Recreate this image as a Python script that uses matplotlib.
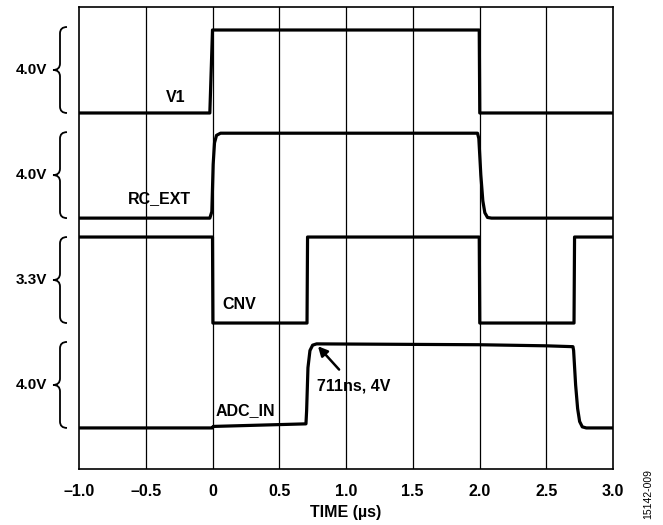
import matplotlib
matplotlib.use("Agg")
import matplotlib.pyplot as plt
from matplotlib.path import Path
from matplotlib.patches import PathPatch
import matplotlib.transforms as mtransforms

plt.rcParams['font.family'] = ['Liberation Sans', 'DejaVu Sans']
plt.rcParams['font.weight'] = 'bold'

# ---- data (time in µs, levels in V) ----
v1_t = [-1.0, -0.02, 0.0, 1.998, 2.002, 3.0]
v1_v = [0.0, 0.0, 3.86, 3.86, 0.0, 0.0]

rc_t = [-1.0, -0.02, -0.005, 0.005, 0.015, 0.03, 0.06, 1.0, 1.985, 1.995, 2.01, 2.025, 2.04, 2.06, 2.09, 3.0]
rc_v = [0.0, 0.0, 0.3, 2.5, 3.5, 3.85, 3.95, 3.95, 3.95, 3.7, 2.0, 0.8, 0.25, 0.03, 0.0, 0.0]

cnv_t = [-1.0, 0.0, 0.003, 0.708, 0.712, 1.998, 2.002, 2.708, 2.712, 3.0]
cnv_v = [3.3, 3.3, 0.0, 0.0, 3.3, 3.3, 0.0, 0.0, 3.3, 3.3]

adc_t = [-1.0, 0.0, 0.005, 0.70, 0.705, 0.715, 0.73, 0.75, 0.78, 2.0, 2.5, 2.70, 2.705, 2.72, 2.735, 2.75, 2.77, 2.80, 3.0]
adc_v = [0.0, 0.0, 0.07, 0.19, 0.8, 2.8, 3.6, 3.85, 3.91, 3.87, 3.82, 3.78, 3.6, 2.0, 0.9, 0.3, 0.05, 0.0, 0.0]

channel_names = ["V1", "RC_EXT", "CNV", "ADC_IN"]
channel_scales = ["4.0V", "4.0V", "3.3V", "4.0V"]
channel_fullscale = [4.0, 4.0, 3.3, 4.0]
channel_offsets = [16.56, 11.67, 6.79, 1.91]   # screen divisions

x_ticks = [-1.0, -0.5, 0.0, 0.5, 1.0, 1.5, 2.0, 2.5, 3.0]
x_ticklabels = ["\u20131.0", "\u20130.5", "0", "0.5", "1.0", "1.5", "2.0", "2.5", "3.0"]

# ---- figure ----
fig = plt.figure(figsize=(6.63, 5.25), dpi=100)
ax = fig.add_axes([79/663, 56/525, 534/663, 462/525])
ax.set_xlim(-1.0, 3.0)
ax.set_ylim(0, 21.49)

for x in x_ticks[1:-1]:
    ax.axvline(x, color='black', lw=0.9, zorder=1)

traces = [(v1_t, v1_v), (rc_t, rc_v), (cnv_t, cnv_v), (adc_t, adc_v)]
for i, (t, v) in enumerate(traces):
    g = 4.0 / channel_fullscale[i]
    y = [channel_offsets[i] + vv * g for vv in v]
    ax.plot(t, y, color='black', lw=2.3, solid_joinstyle='round', zorder=3)

for s in ax.spines.values():
    s.set_linewidth(1.2)
ax.set_yticks([])
ax.set_xticks(x_ticks)
ax.set_xticklabels(x_ticklabels, fontsize=11.5, fontweight='bold')
ax.tick_params(axis='x', length=0, pad=11)
ax.set_xlabel("TIME (\u00b5s)", fontsize=11.5, fontweight='bold', labelpad=4)

# trace labels
fs = 11.5
ax.text(-0.275, 17.3, "V1", ha='center', va='center', fontsize=fs, fontweight='bold')
ax.text(-0.395, 12.6, "RC_EXT", ha='center', va='center', fontsize=fs, fontweight='bold')
ax.text(0.20, 7.63, "CNV", ha='center', va='center', fontsize=fs, fontweight='bold')
ax.text(0.25, 2.7, "ADC_IN", ha='center', va='center', fontsize=fs, fontweight='bold')

ann_y = channel_offsets[3]
ax.annotate("711ns, 4V", xy=(0.79, ann_y + 3.8), xytext=(1.06, ann_y + 1.95),
            ha='center', va='center', fontsize=fs, fontweight='bold',
            arrowprops=dict(arrowstyle='-|>', color='black', lw=1.8,
                            mutation_scale=14, shrinkA=6, shrinkB=0))

# braces and scale labels
trans = mtransforms.blended_transform_factory(ax.transAxes, ax.transData)
xe = (67 - 79) / 534
xb = (60 - 79) / 534
xt = (53 - 79) / 534
r = 0.3
for i in range(4):
    y0 = channel_offsets[i]
    y1 = y0 + 4.0
    ym = (y0 + y1) / 2
    verts = [(xe, y1), (xb, y1), (xb, y1 - r),
             (xb, ym + r), (xb, ym), (xt, ym),
             (xb, ym), (xb, ym - r),
             (xb, y0 + r), (xb, y0), (xe, y0)]
    codes = [Path.MOVETO, Path.CURVE3, Path.CURVE3,
             Path.LINETO, Path.CURVE3, Path.CURVE3,
             Path.CURVE3, Path.CURVE3,
             Path.LINETO, Path.CURVE3, Path.CURVE3]
    patch = PathPatch(Path(verts, codes), transform=trans, fill=False,
                      lw=1.3, edgecolor='black', clip_on=False)
    ax.add_patch(patch)
    ax.text((47 - 79) / 534, ym, channel_scales[i], transform=trans,
            ha='right', va='center', fontsize=11, fontweight='bold')

fig.text(648/663, 1 - 494/525, "15142-009", rotation=90, ha='center', va='center',
         fontsize=7.5, fontweight='normal')

fig.savefig("out.png", dpi=100)
